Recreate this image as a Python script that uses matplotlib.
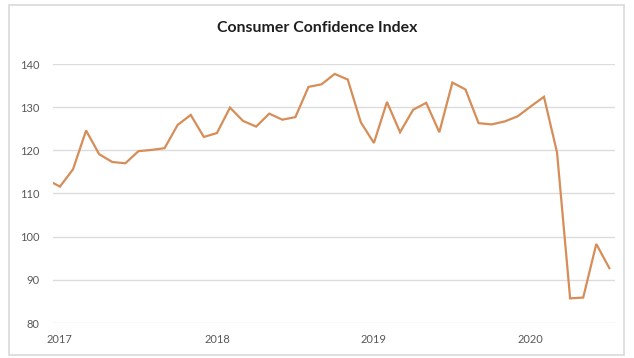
import matplotlib
matplotlib.use("Agg")
import matplotlib.pyplot as plt
from matplotlib.patches import Rectangle

# monthly index values, Dec 2016 .. Jul 2020
months = ["2016-12",
          "2017-01", "2017-02", "2017-03", "2017-04", "2017-05", "2017-06",
          "2017-07", "2017-08", "2017-09", "2017-10", "2017-11", "2017-12",
          "2018-01", "2018-02", "2018-03", "2018-04", "2018-05", "2018-06",
          "2018-07", "2018-08", "2018-09", "2018-10", "2018-11", "2018-12",
          "2019-01", "2019-02", "2019-03", "2019-04", "2019-05", "2019-06",
          "2019-07", "2019-08", "2019-09", "2019-10", "2019-11", "2019-12",
          "2020-01", "2020-02", "2020-03", "2020-04", "2020-05", "2020-06",
          "2020-07"]
cci = [113.2,
       111.6, 115.6, 124.6, 119.1, 117.3, 117.0,
       119.8, 120.1, 120.5, 125.9, 128.2, 123.1,
       124.0, 129.9, 126.8, 125.5, 128.5, 127.1,
       127.7, 134.7, 135.3, 137.7, 136.4, 126.5,
       121.7, 131.2, 124.2, 129.4, 131.0, 124.2,
       135.7, 134.1, 126.3, 126.0, 126.7, 127.9,
       130.2, 132.4, 119.5, 85.7, 85.9, 98.3,
       92.7]
year_labels = ["2017", "2018", "2019", "2020"]

# position 0 = Jan 2017
x = list(range(-1, len(months) - 1))
year_pos = [months.index(y + "-01") - 1 for y in year_labels]

plt.rcParams["font.family"] = ["Lato", "DejaVu Sans"]

fig = plt.figure(figsize=(6.34, 3.58), dpi=100)
fig.patches.append(Rectangle((9 / 634, 3 / 358), 615 / 634, 350 / 358,
                             transform=fig.transFigure, fill=False,
                             edgecolor="#d9d9d9", linewidth=1.2))

ax = fig.add_axes([53 / 634, 1 - 323 / 358, 562 / 634, 259 / 358])
ax.plot(x, cci, color="#d68d58", linewidth=1.6, solid_joinstyle="miter")

ax.set_xlim(-0.53, 42.43)
ax.set_ylim(80, 140)
ax.set_yticks(range(80, 141, 10))
ax.set_xticks(year_pos)
ax.set_xticklabels(year_labels)
ax.grid(axis="y", color="#dcdcdc", linewidth=1.0)
ax.set_axisbelow(True)
for s in ax.spines.values():
    s.set_visible(False)
ax.tick_params(axis="both", length=0, labelsize=8, labelcolor="#595959")
ax.tick_params(axis="y", pad=10)
ax.tick_params(axis="x", pad=8)

fig.text(0.5, 1 - 28 / 358, "Consumer Confidence Index", ha="center", va="center",
         fontsize=11.4, fontweight="bold", color="#1f1f1f")

fig.savefig("out.png", dpi=100)
